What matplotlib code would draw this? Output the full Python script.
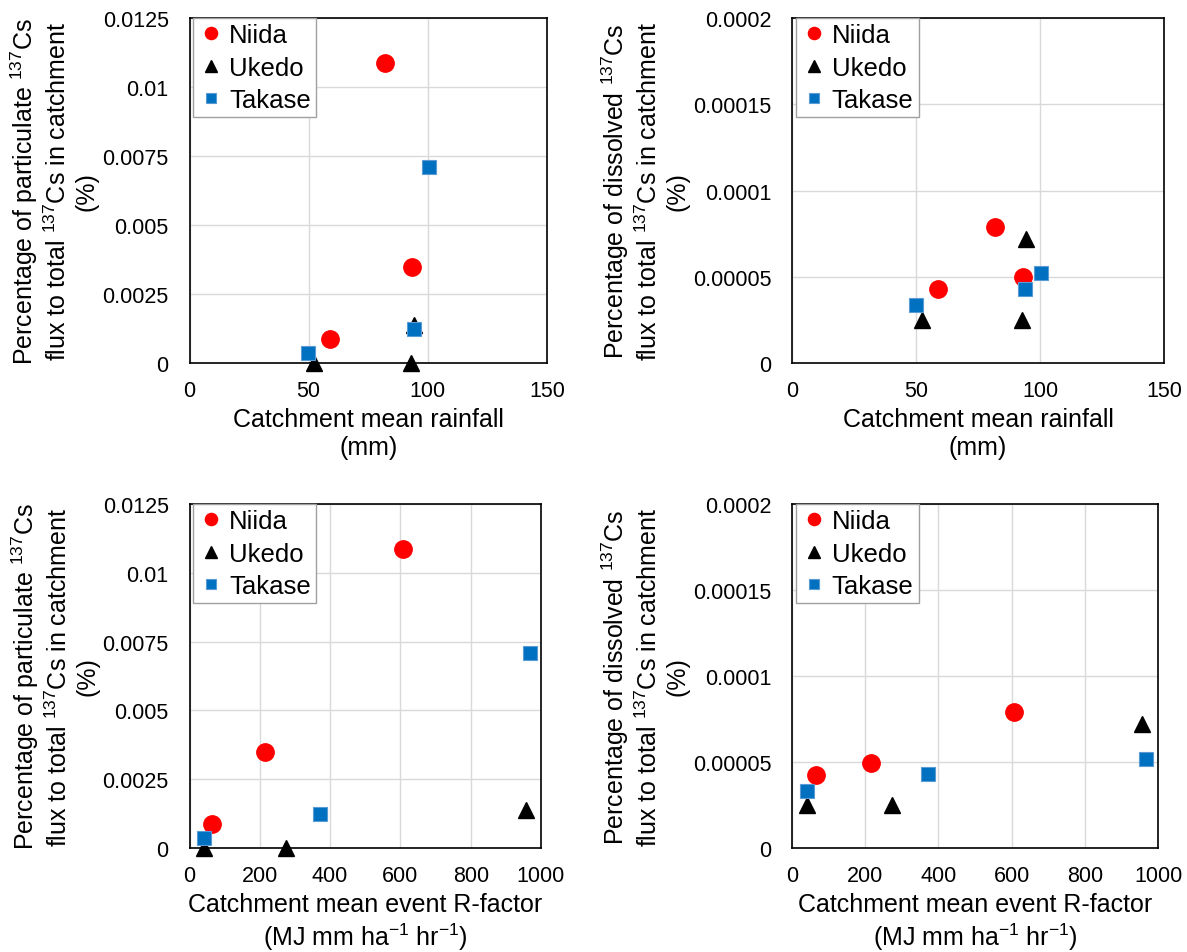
import matplotlib
matplotlib.use('Agg')
import matplotlib.pyplot as plt
from matplotlib.ticker import FuncFormatter, MultipleLocator

plt.rcParams['font.family'] = ['Liberation Sans', 'DejaVu Sans']
plt.rcParams['mathtext.fontset'] = 'custom'
plt.rcParams['mathtext.rm'] = 'Liberation Sans'
plt.rcParams['mathtext.it'] = 'Liberation Sans'

# Values
sites = ['Niida', 'Ukedo', 'Takase']

rain_niida = [81.9, 93.3, 59.0]
rain_ukedo = [52.4, 92.8, 94.4]
rain_takase = [100.5, 94.0, 49.9]

rfac_niida = [607, 216, 65]
rfac_ukedo = [42, 274, 956]
rfac_takase = [968, 371, 42]

part_niida = [0.01087, 0.00349, 0.00087]
part_ukedo = [0.00001, 0.00001, 0.00138]
part_takase = [0.00710, 0.00122, 0.00036]

diss_niida = [0.0000790, 0.0000497, 0.0000427]
diss_ukedo = [0.0000251, 0.0000251, 0.0000721]
diss_takase = [0.0000520, 0.0000429, 0.0000334]

rain = [rain_niida, rain_ukedo, rain_takase]
rfac = [rfac_niida, rfac_ukedo, rfac_takase]
part = [part_niida, part_ukedo, part_takase]
diss = [diss_niida, diss_ukedo, diss_takase]

styles = [
    dict(marker='o', color='#ff0000', ms=12.5, mec='#ff0000'),
    dict(marker='^', color='#000000', ms=11.5, mec='#000000'),
    dict(marker='s', color='#0070c0', ms=10, mec='#5b9bd5', mew=0.8),
]

cs = r'$\mathregular{^{137}}$Cs'
ylab_part = 'Percentage of particulate ' + cs + '\nflux to total ' + cs + ' in catchment\n(%)'
ylab_diss = 'Percentage of dissolved ' + cs + '\nflux to total ' + cs + ' in catchment\n(%)'
xlab_rain = 'Catchment mean rainfall\n(mm)'
xlab_rfac = 'Catchment mean event R-factor\n(MJ mm ha$\\mathregular{^{-1}}$ hr$\\mathregular{^{-1}}$)'


def fmt(v, pos):
    s = f'{v:.5f}'.rstrip('0').rstrip('.')
    return s


W, H = 1187, 953
fig = plt.figure(figsize=(W / 100, H / 100), dpi=100)

panels = [
    # (left, right, top, bottom) pixels, x data, y data, xmax, xstep, ymax, ystep, labels
    ((189.5, 547, 19, 364), rain, part, 150, 50, 0.0125, 0.0025, xlab_rain, ylab_part, -0.255),
    ((792, 1164, 19, 364), rain, diss, 150, 50, 0.0002, 0.00005, xlab_rain, ylab_diss, -0.276),
    ((189.5, 541, 505, 849), rfac, part, 1000, 200, 0.0125, 0.0025, xlab_rfac, ylab_part, -0.256),
    ((792, 1158, 505, 849), rfac, diss, 1000, 200, 0.0002, 0.00005, xlab_rfac, ylab_diss, -0.28),
]

for (l, r, t, b), xs, ys, xmax, xstep, ymax, ystep, xl, yl, ylx in panels:
    ax = fig.add_axes([l / W, 1 - b / H, (r - l) / W, (b - t) / H])
    for name, x, y, st in zip(sites, xs, ys, styles):
        ax.plot(x, y, ls='none', label=name, clip_on=False, zorder=3, **st)
    ax.set_xlim(0, xmax)
    ax.set_ylim(0, ymax)
    ax.xaxis.set_major_locator(MultipleLocator(xstep))
    ax.yaxis.set_major_locator(MultipleLocator(ystep))
    ax.yaxis.set_major_formatter(FuncFormatter(fmt))
    ax.grid(True, color='#d9d9d9', lw=1)
    ax.set_axisbelow(True)
    ax.tick_params(axis='both', length=0, labelsize=15.5)
    ax.tick_params(axis='y', pad=15)
    ax.tick_params(axis='x', pad=12)
    for sp in ax.spines.values():
        sp.set_color('#000000')
        sp.set_linewidth(1.2)
    ax.set_xlabel(xl, fontsize=18)
    ax.set_ylabel(yl, fontsize=18)
    ax.xaxis.set_label_coords(0.5, -0.128)
    ax.yaxis.set_label_coords(ylx, 0.5)
    leg = ax.legend(loc='upper left', bbox_to_anchor=(0.01, 1.0), borderaxespad=0,
                    fontsize=18.5, markerscale=0.7, handlelength=1.0, handletextpad=0.2,
                    labelspacing=0.33, borderpad=0.2, fancybox=False, framealpha=1,
                    edgecolor='#a0a0a0')
    leg.get_frame().set_linewidth(1.0)

fig.savefig('out.png', dpi=100)
